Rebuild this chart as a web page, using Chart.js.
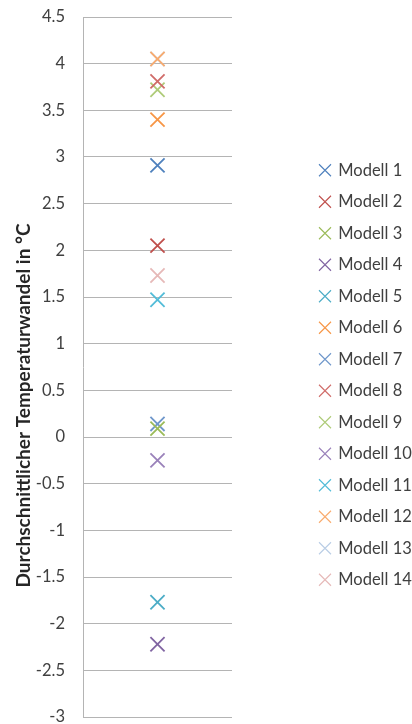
<!DOCTYPE html>
<html>
<head>
<meta charset="utf-8">
<script src="https://cdn.jsdelivr.net/npm/chart.js@4/dist/chart.umd.min.js"></script>
<style>
  html, body { margin: 0; padding: 0; background: #ffffff; }
  #wrap { width: 412px; height: 724px; }
</style>
</head>
<body>
<div id="wrap"><canvas id="chart"></canvas></div>
<script>
// Model names and their mean temperature change (°C)
const models = [
  'Modell 1', 'Modell 2', 'Modell 3', 'Modell 4', 'Modell 5', 'Modell 6', 'Modell 7',
  'Modell 8', 'Modell 9', 'Modell 10', 'Modell 11', 'Modell 12', 'Modell 13', 'Modell 14'
];
const temperatureChange = [2.91, 2.05, 0.09, -2.22, -1.77, 3.40, 0.14, 3.81, 3.72, -0.25, 1.47, 4.05, 4.05, 1.73];
const markerColors = [
  '#4F81BD', '#C0504D', '#9BBB59', '#8064A2', '#4BACC6', '#F79646', '#6F97CB',
  '#D06C69', '#AECB78', '#9A82BA', '#52BCD8', '#F9AB6D', '#B9CDE5', '#E6B9B8'
];
const yMin = -3;
const yMax = 4.5;
const yStep = 0.5;
const axisTitle = 'Durchschnittlicher Temperaturwandel in °C';

const FONT = 'Lato, "Open Sans", sans-serif';

// Rotated y-axis title, drawn slightly below the middle of the plot
const axisTitlePlugin = {
  id: 'axisTitle',
  afterDraw(chart) {
    const { ctx, chartArea } = chart;
    ctx.save();
    ctx.font = 'bold 19px ' + FONT;
    ctx.fillStyle = '#262626';
    ctx.textAlign = 'center';
    ctx.textBaseline = 'middle';
    ctx.translate(24, chartArea.top + chartArea.height * 0.555);
    ctx.rotate(-Math.PI / 2);
    ctx.fillText(axisTitle, 0, 0);
    ctx.restore();
  }
};

// Moves the legend column a little lower than the centred default
const legendOffsetPlugin = {
  id: 'legendOffset',
  afterLayout(chart) {
    const lg = chart.legend;
    if (lg) { lg.top += 8; lg.bottom += 8; }
  }
};

// Let the layout padding alone decide the plot's top and bottom edges
const noScalePadding = s => { s.paddingTop = 0; s.paddingBottom = 0; };

const datasets = models.map((name, i) => ({
  label: name,
  data: [{ x: 1, y: temperatureChange[i] }],
  pointStyle: 'crossRot',
  pointRadius: 10,
  pointHoverRadius: 10,
  pointBorderWidth: 1.8,
  borderWidth: 1.2,
  borderColor: markerColors[i],
  backgroundColor: markerColors[i],
  showLine: false
}));

new Chart(document.getElementById('chart'), {
  type: 'scatter',
  data: { datasets },
  options: {
    responsive: true,
    maintainAspectRatio: false,
    animation: false,
    layout: { autoPadding: false, padding: { top: 17, bottom: 7, left: 0, right: 0 } },
    plugins: {
      tooltip: { enabled: false },
      legend: {
        position: 'right',
        align: 'center',
        maxWidth: 107,
        labels: {
          usePointStyle: true,
          boxWidth: 10,
          boxHeight: 12,
          padding: 15,
          color: '#404040',
          font: { family: FONT, size: 16.5 },
          generateLabels: chart =>
            Chart.defaults.plugins.legend.labels.generateLabels(chart)
              .map(item => Object.assign(item, { lineWidth: 1.1 }))
        }
      }
    },
    scales: {
      x: { type: 'linear', min: 0, max: 2, display: false },
      y: {
        position: 'left',
        min: yMin,
        max: yMax,
        afterFit: s => { s.width = 83; noScalePadding(s); },
        ticks: {
          stepSize: yStep,
          padding: 0,
          color: '#404040',
          font: { family: FONT, size: 16.5, lineHeight: 1 },
          callback: v => String(Number(v.toFixed(1)))
        },
        grid: {
          color: '#b4b4b4',
          lineWidth: 1,
          drawTicks: true,
          tickLength: 18,
          tickColor: 'rgba(0,0,0,0)'
        },
        border: { color: '#b4b4b4', width: 1 }
      },
      gap: {
        type: 'linear',
        position: 'right',
        display: true,
        afterFit: s => { s.width = 73; noScalePadding(s); },
        ticks: { display: false },
        grid: { display: false, drawOnChartArea: false },
        border: { display: false }
      }
    }
  },
  plugins: [axisTitlePlugin, legendOffsetPlugin]
});
</script>
</body>
</html>
